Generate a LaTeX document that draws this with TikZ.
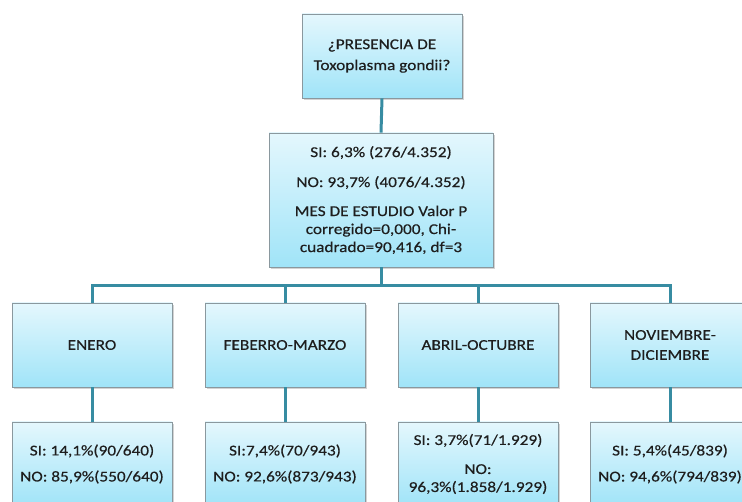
\documentclass[tikz,border=0pt]{standalone}
\usepackage{fontspec}
\setmainfont[FakeStretch=1.15,FakeBold=0.4]{Carlito}
\usetikzlibrary{shadows}
\definecolor{boxtop}{RGB}{228,247,253}
\definecolor{boxbot}{RGB}{160,228,248}
\definecolor{boxedge}{RGB}{138,152,158}
\definecolor{linkcol}{RGB}{55,140,162}
\definecolor{txt}{RGB}{30,30,30}
\tikzset{
  card/.style={draw=boxedge, line width=0.9pt, top color=boxtop, bottom color=boxbot,
    drop shadow={opacity=0.35, shadow xshift=2pt, shadow yshift=-2pt},
    minimum width=160pt, minimum height=84pt, inner sep=0pt, align=center,
    text=txt, font=\fontsize{15pt}{18pt}\selectfont},
  link/.style={draw=linkcol, line width=3pt}
}
\begin{document}
\begin{tikzpicture}[x=1pt,y=-1pt]
\useasboundingbox (0,0) rectangle (742,502);

% question and overall result
\node[card] (q) at (382,56) {¿PRESENCIA DE\\[3pt]Toxoplasma gondii?};
\node[card, minimum width=224pt, minimum height=134pt] (tot) at (381,200)
  {SI: 6,3\% (276/4.352)\\[12pt]NO: 93,7\% (4076/4.352)\\[11pt]MES DE ESTUDIO Valor P\\corregido=0,000, Chi-\\cuadrado=90,416, df=3};

% study months
\node[card] (m1) at (92,345) {ENERO};
\node[card] (m2) at (285,345) {FEBERRO-MARZO};
\node[card] (m3) at (478,345) {ABRIL-OCTUBRE};
\node[card] (m4) at (670,345) {NOVIEMBRE-\\[2pt]DICIEMBRE};

% results per month
\node[card] (r1) at (92,464) {SI: 14,1\%(90/640)\\[8pt]NO: 85,9\%(550/640)};
\node[card] (r2) at (285,464) {SI:7,4\%(70/943)\\[8pt]NO: 92,6\%(873/943)};
\node[card] (r3) at (478,464) {SI: 3,7\%(71/1.929)\\[11pt]NO:\\96,3\%(1.858/1.929)};
\node[card] (r4) at (670,464) {SI: 5,4\%(45/839)\\[8pt]NO: 94,6\%(794/839)};

% connectors
\coordinate (bar) at (381,286);
\draw[link] (q.south) -- (tot.north);
\draw[link] (tot.south) -- (bar);
\draw[link] (m1.north) |- (bar) -| (m4.north);
\draw[link] (m2.north) -- (m2.north |- bar);
\draw[link] (m3.north) -- (m3.north |- bar);
\draw[link] (m1.south) -- (r1.north);
\draw[link] (m2.south) -- (r2.north);
\draw[link] (m3.south) -- (r3.north);
\draw[link] (m4.south) -- (r4.north);
\end{tikzpicture}
\end{document}
